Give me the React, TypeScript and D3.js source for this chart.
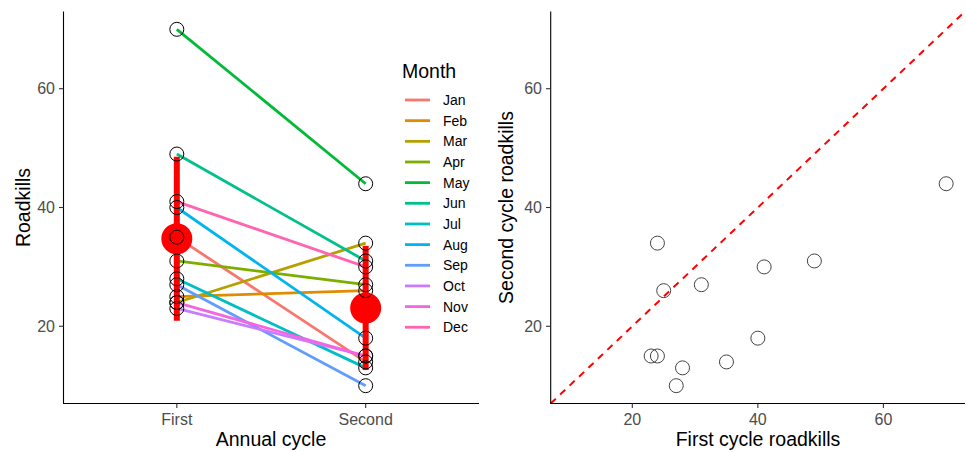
import React from "react";
import * as d3 from "d3";

const months = ["Jan", "Feb", "Mar", "Apr", "May", "Jun", "Jul", "Aug", "Sep", "Oct", "Nov", "Dec"];
const firstCycle = [35, 25, 24, 31, 70, 49, 28, 40, 27, 23, 24, 41];
const secondCycle = [14, 26, 34, 27, 44, 31, 13, 18, 10, 15, 15, 30];
const cycles = ["First", "Second"];
const yTicks = [20, 40, 60];
const xTicks = [20, 40, 60];
const monthColors = ["#F8766D", "#DE8C00", "#B79F00", "#7CAE00", "#00BA38", "#00C08B",
  "#00BFC4", "#00B4F0", "#619CFF", "#C77CFF", "#F564E3", "#FF64B0"];

const font = "'Liberation Sans', Arial, sans-serif";

const App = () => {
  const W = 966, H = 452;
  // left panel
  const y = d3.scaleLinear().domain([7, 73]).range([403.5, 11.5]);
  const x = d3.scalePoint().domain(cycles).range([63.5, 479]).padding(0.6);
  const color = d3.scaleOrdinal<string, string>().domain(months).range(monthColors);
  // right panel
  const sx = d3.scaleLinear().domain([7, 73]).range([550.7, 965]);
  const sy = y;

  const series = [firstCycle, secondCycle];
  const stats = series.map((s, i) => ({
    cycle: cycles[i],
    mean: d3.mean(s) as number,
    sd: d3.deviation(s) as number,
  }));

  const line = d3.line<[string, number]>().x(d => x(d[0]) as number).y(d => y(d[1]));

  return (
    <svg width={W} height={H} style={{ position: "absolute", left: 0, top: 0, background: "#fff" }} fontFamily={font}>
      <rect width={W} height={H} fill="#fff" />
      {/* left panel */}
      {months.map((m, i) => (
        <path key={m} d={line([["First", firstCycle[i]], ["Second", secondCycle[i]]]) as string}
          stroke={color(m)} strokeWidth={2.8} fill="none" />
      ))}
      {stats.map(s => (
        <g key={s.cycle}>
          <line x1={x(s.cycle)} x2={x(s.cycle)} y1={y(s.mean - s.sd)} y2={y(s.mean + s.sd)}
            stroke="#FF0000" strokeWidth={6} />
          <circle cx={x(s.cycle)} cy={y(s.mean)} r={15.5} fill="#FF0000" />
        </g>
      ))}
      {series.map((s, j) => s.map((v, i) => (
        <circle key={j + "-" + i} cx={x(cycles[j])} cy={y(v)} r={7} fill="none" stroke="#000" strokeWidth={1} />
      )))}
      <line x1={63.5} x2={63.5} y1={11.5} y2={403.5} stroke="#000" strokeWidth={1.1} />
      <line x1={63} x2={479} y1={403.5} y2={403.5} stroke="#000" strokeWidth={1.1} />
      {yTicks.map(t => (
        <g key={t}>
          <line x1={59} x2={63.5} y1={y(t)} y2={y(t)} stroke="#333" strokeWidth={1.1} />
          <text x={55} y={y(t)} dy="0.35em" textAnchor="end" fontSize={16} fill="#4D4D4D">{t}</text>
        </g>
      ))}
      {cycles.map(c => (
        <g key={c}>
          <line x1={x(c)} x2={x(c)} y1={403.5} y2={408} stroke="#333" strokeWidth={1.1} />
          <text x={x(c)} y={425} textAnchor="middle" fontSize={16} fill="#4D4D4D">{c}</text>
        </g>
      ))}
      <text x={271} y={446} textAnchor="middle" fontSize={19.5} fill="#000">Annual cycle</text>
      <text transform="translate(30,207.5) rotate(-90)" textAnchor="middle" fontSize={19.5} fill="#000">Roadkills</text>
      {/* legend */}
      <text x={402} y={78} fontSize={19.5} fill="#000">Month</text>
      {months.map((m, i) => (
        <g key={m} transform={`translate(0,${100 + i * 20.66})`}>
          <line x1={405} x2={430} y1={0} y2={0} stroke={color(m)} strokeWidth={2.8} />
          <text x={443} y={0} dy="0.35em" fontSize={14} fill="#000">{m}</text>
        </g>
      ))}

      {/* right panel */}
      <line x1={sx(7)} y1={sy(7)} x2={sx(73)} y2={sy(73)} stroke="#FF0000" strokeWidth={2} strokeDasharray="7,6" />
      {months.map((m, i) => (
        <circle key={m} cx={sx(firstCycle[i])} cy={sy(secondCycle[i])} r={7} fill="none" stroke="#444" strokeWidth={1} />
      ))}
      <line x1={550.7} x2={550.7} y1={11.5} y2={403.5} stroke="#000" strokeWidth={1.1} />
      <line x1={550.2} x2={965} y1={403.5} y2={403.5} stroke="#000" strokeWidth={1.1} />
      {yTicks.map(t => (
        <g key={t}>
          <line x1={546} x2={550.7} y1={sy(t)} y2={sy(t)} stroke="#333" strokeWidth={1.1} />
          <text x={542} y={sy(t)} dy="0.35em" textAnchor="end" fontSize={16} fill="#4D4D4D">{t}</text>
        </g>
      ))}
      {xTicks.map(t => (
        <g key={t}>
          <line x1={sx(t)} x2={sx(t)} y1={403.5} y2={408} stroke="#333" strokeWidth={1.1} />
          <text x={sx(t)} y={425} textAnchor="middle" fontSize={16} fill="#4D4D4D">{t}</text>
        </g>
      ))}
      <text x={758} y={446} textAnchor="middle" fontSize={19.5} fill="#000">First cycle roadkills</text>
      <text transform="translate(513,207.5) rotate(-90)" textAnchor="middle" fontSize={19.5} fill="#000">Second cycle roadkills</text>
    </svg>
  );
};

export default App;
